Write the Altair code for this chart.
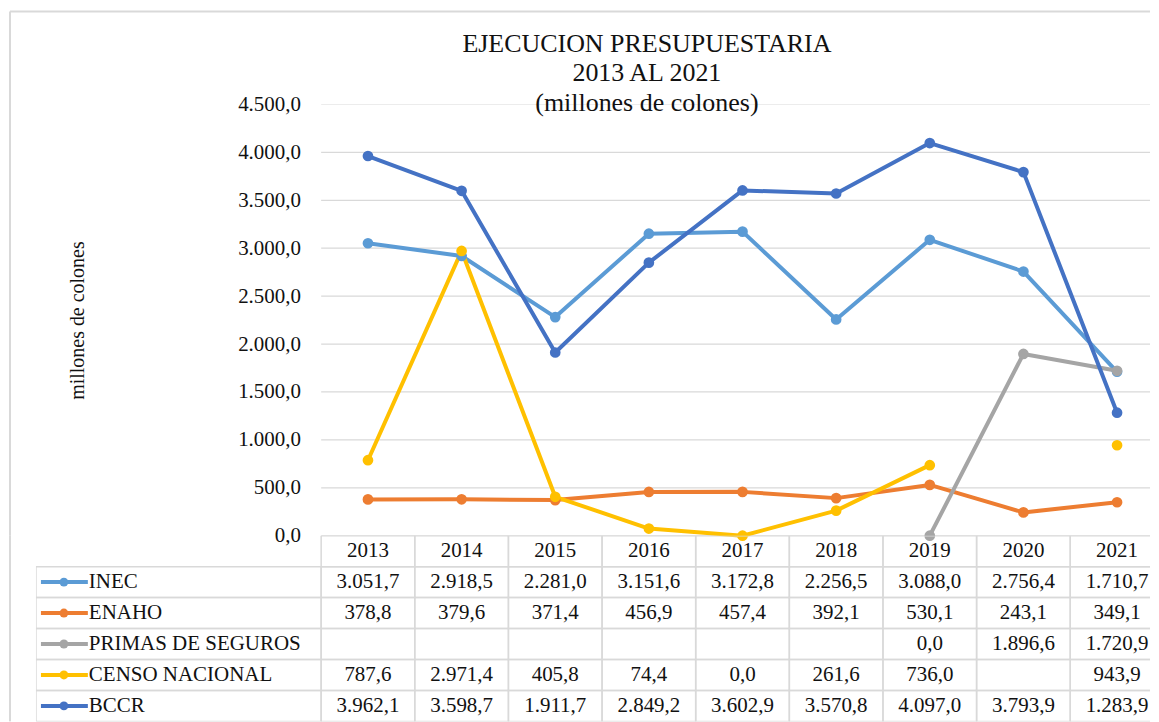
import altair as alt
import pandas as pd

# ---------------- data ----------------
YEARS = [2013, 2014, 2015, 2016, 2017, 2018, 2019, 2020, 2021]
SERIES = ["INEC", "ENAHO", "PRIMAS DE SEGUROS", "CENSO NACIONAL", "BCCR"]
COLORS = ["#5b9bd5", "#ed7d31", "#a5a5a5", "#ffc000", "#4472c4"]
INEC = [3051.7, 2918.5, 2281.0, 3151.6, 3172.8, 2256.5, 3088.0, 2756.4, 1710.7]
ENAHO = [378.8, 379.6, 371.4, 456.9, 457.4, 392.1, 530.1, 243.1, 349.1]
PRIMAS = [None, None, None, None, None, None, 0.0, 1896.6, 1720.9]
CENSO = [787.6, 2971.4, 405.8, 74.4, 0.0, 261.6, 736.0, None, 943.9]
BCCR = [3962.1, 3598.7, 1911.7, 2849.2, 3602.9, 3570.8, 4097.0, 3793.9, 1283.9]
Y_TICKS = [0, 500, 1000, 1500, 2000, 2500, 3000, 3500, 4000, 4500]
TITLE_LINES = ["EJECUCION PRESUPUESTARIA", "2013 AL 2021", "(millones de colones)"]
Y_TITLE = "millones de colones"
HEADER_KEY = "AÑO"

# ---------------- layout constants (styles) ----------------
COL_W = 93.8                 # px per table column
LEFT_COLS = 285.7 / COL_W    # width of the label column, in column units
X_MAX = 830.3 / COL_W        # visible right end, in column units
PLOT_W = round((X_MAX + LEFT_COLS) * COL_W)
TOP_H = 432
BOT_H = 186
FRAME_DX = 26                # chart-area border: px left of the table
FRAME_DY = 93                # chart-area border: px above the plot
FONT = "Liberation Serif"
TXT = "#111111"
GRID = "#d9d9d9"
ES_FMT = "replace(replace(replace(format({v}, ',.1f'), ',', '_'), '.', ','), '_', '.')"

# ---------------- tables ----------------
values = {"INEC": INEC, "ENAHO": ENAHO, "PRIMAS DE SEGUROS": PRIMAS,
          "CENSO NACIONAL": CENSO, "BCCR": BCCR}
rows = []
for s in SERIES:
    for i, (yr, v) in enumerate(zip(YEARS, values[s])):
        rows.append({"serie": s, "fila": s, "anio": str(yr), "xc": i + 0.5, "valor": v})
df = pd.DataFrame(rows)

hdr = pd.DataFrame({"anio": [str(y) for y in YEARS],
                    "xc": [i + 0.5 for i in range(len(YEARS))],
                    "fila": HEADER_KEY})

cells = []
for i in range(len(YEARS)):
    for r in [HEADER_KEY] + SERIES:
        cells.append({"xs": i, "xe": i + 1, "fila": r})
for r in SERIES:
    cells.append({"xs": -LEFT_COLS, "xe": 0, "fila": r})
cells = pd.DataFrame(cells)

labels = pd.DataFrame({"serie": SERIES, "fila": SERIES, "xl": -LEFT_COLS})
griddf = pd.DataFrame({"v": Y_TICKS, "x0": 0, "x1": len(YEARS)})
frame = pd.DataFrame({
    "xf": [-LEFT_COLS - FRAME_DX / COL_W],
    "xr": [X_MAX],
    "yf": [Y_TICKS[-1] * (TOP_H + FRAME_DY) / TOP_H],
    "ybot": [0],
})

# ---------------- scales ----------------
x_scale = alt.Scale(domain=[-LEFT_COLS, X_MAX], nice=False, zero=False)
y_scale = alt.Scale(domain=[0, Y_TICKS[-1]], nice=False)
c_scale = alt.Scale(domain=SERIES, range=COLORS)
row_scale = alt.Scale(domain=[HEADER_KEY] + SERIES, paddingInner=0, paddingOuter=0)

y_axis = alt.Axis(values=Y_TICKS, labelExpr=ES_FMT.format(v="datum.value"),
                  grid=False, domain=False, ticks=False, tickSize=0,
                  labelPadding=20.7, offset=-(LEFT_COLS * COL_W),
                  labelFont=FONT, labelFontSize=21, labelColor=TXT,
                  title=Y_TITLE, titleFont=FONT, titleFontSize=20,
                  titleFontWeight="normal", titleColor=TXT, titlePadding=150)

X = lambda f: alt.X(f, scale=x_scale, axis=None)
Y = lambda f: alt.Y(f, scale=y_scale, axis=y_axis)

# ---------------- top panel: lines ----------------
border_top = alt.Chart(frame).mark_rule(color=GRID, strokeWidth=2).encode(
    x=X("xf:Q"), x2="xr:Q", y=Y("yf:Q"))
border_left = alt.Chart(frame).mark_rule(color=GRID, strokeWidth=2).encode(
    x=X("xf:Q"), y=Y("yf:Q"), y2="ybot:Q")
grid = alt.Chart(griddf).mark_rule(color=GRID, strokeWidth=1.3, clip=True).encode(
    x=X("x0:Q"), x2="x1:Q", y=Y("v:Q"))
lines = alt.Chart(df).mark_line(strokeWidth=4, invalid="break-paths-filter-domains",
                                strokeCap="round", strokeJoin="round").encode(
    x=X("xc:Q"), y=Y("valor:Q"),
    color=alt.Color("serie:N", scale=c_scale, legend=None),
    detail="serie:N")
points = alt.Chart(df).transform_filter("isValid(datum.valor)").mark_circle(size=115, opacity=1).encode(
    x=X("xc:Q"), y=Y("valor:Q"),
    color=alt.Color("serie:N", scale=c_scale, legend=None))

top = alt.layer(border_top, border_left, grid, lines, points).properties(
    width=PLOT_W, height=TOP_H,
    title=alt.TitleParams(text=TITLE_LINES, font=FONT, fontSize=26, fontWeight="normal",
                          color=TXT, lineHeight=30, anchor="middle", frame="group",
                          baseline="bottom", offset=-132, dx=54))

# ---------------- bottom panel: data table ----------------
YR = alt.Y("fila:N", scale=row_scale, axis=None)

bl = alt.Chart(frame).mark_rule(color=GRID, strokeWidth=2).encode(x=X("xf:Q"))
rects = alt.Chart(cells).mark_rect(fillOpacity=0, stroke=GRID, strokeWidth=1.5, clip=True).encode(
    x=X("xs:Q"), x2="xe:Q", y=YR)
hdr_txt = alt.Chart(hdr).mark_text(font=FONT, fontSize=21, color=TXT, baseline="middle").encode(
    x=X("xc:Q"), y=YR, text="anio:N")
val_txt = alt.Chart(df).transform_filter("isValid(datum.valor)").transform_calculate(
    lbl=ES_FMT.format(v="datum.valor")).mark_text(
    font=FONT, fontSize=21, color=TXT, baseline="middle").encode(
    x=X("xc:Q"), y=YR, text="lbl:N")
lab_txt = alt.Chart(labels).mark_text(font=FONT, fontSize=21, color=TXT, baseline="middle",
                                      align="left", dx=53).encode(
    x=X("xl:Q"), y=YR, text="serie:N")
leg_line = alt.Chart(labels).mark_rule(strokeWidth=4, xOffset=5, x2Offset=52).encode(
    x=X("xl:Q"), x2="xl:Q", y=YR,
    color=alt.Color("serie:N", scale=c_scale, legend=None))
leg_pt = alt.Chart(labels).mark_circle(size=80, opacity=1, xOffset=28).encode(
    x=X("xl:Q"), y=YR,
    color=alt.Color("serie:N", scale=c_scale, legend=None))

bottom = alt.layer(bl, rects, hdr_txt, val_txt, leg_line, leg_pt, lab_txt).properties(
    width=PLOT_W, height=BOT_H)

chart = alt.vconcat(top, bottom, spacing=0, bounds="flush").properties(
    padding={"left": 0, "top": 2, "right": 0, "bottom": 0},
    background="white",
).configure(font=FONT).configure_view(stroke="transparent", strokeWidth=0)

chart.save("out.html", embed_options={"renderer": "svg", "actions": False})
